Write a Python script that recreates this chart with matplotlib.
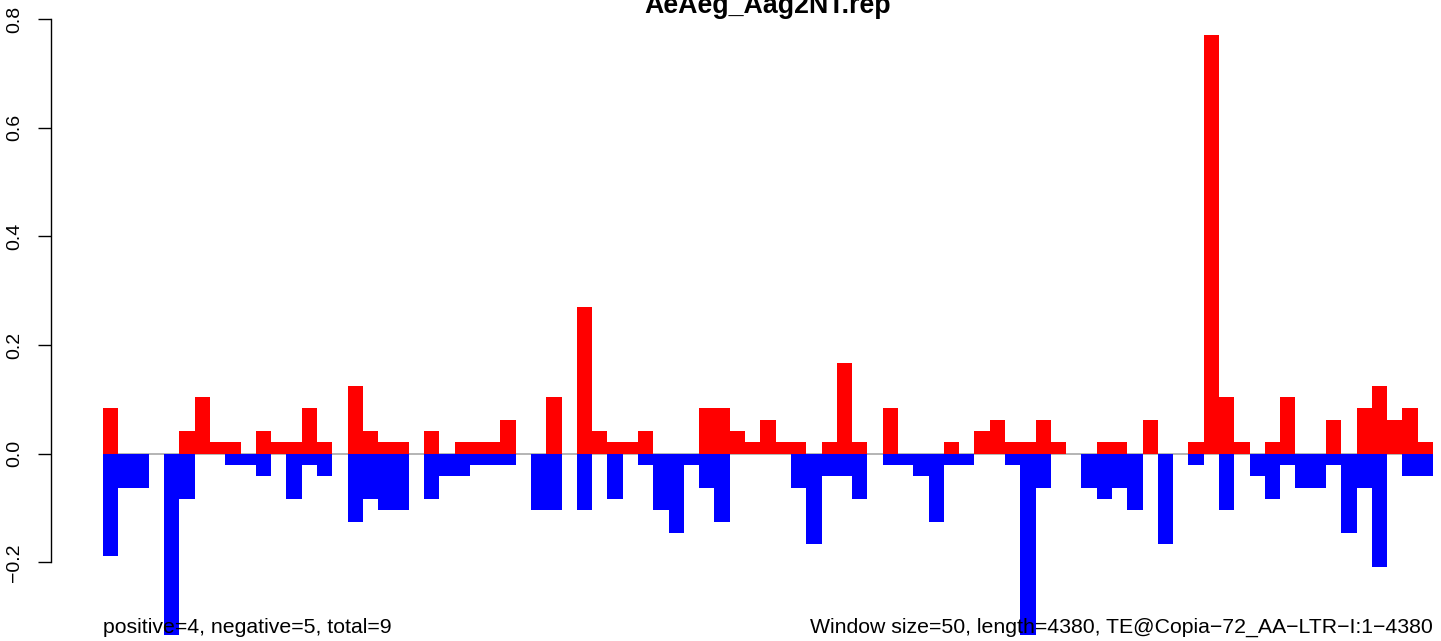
import numpy as np
import matplotlib
matplotlib.use("Agg")
import matplotlib.pyplot as plt

plt.rcParams['font.family'] = ['Liberation Sans', 'DejaVu Sans']

title = "AeAeg_Aag2NT.rep"
left_note = "positive=4, negative=5, total=9"
right_note = "Window size=50, length=4380, TE@Copia\u221272_AA\u2212LTR\u2212I:1\u22124380"

# in steps of 1/48
scale = 48.0
pos_counts = [4, 0, 0, 0, 0, 2, 5, 1, 1, 0,
              2, 1, 1, 4, 1, 0, 6, 2, 1, 1,
              0, 2, 0, 1, 1, 1, 3, 0, 0, 5,
              0, 13, 2, 1, 1, 2, 0, 0, 0, 4,
              4, 2, 1, 3, 1, 1, 0, 1, 8, 1,
              0, 4, 0, 0, 0, 1, 0, 2, 3, 1,
              1, 3, 1, 0, 0, 1, 1, 0, 3, 0,
              0, 1, 37, 5, 1, 0, 1, 5, 0, 0,
              3, 0, 4, 6, 3, 4, 1]
neg_counts = [9, 3, 3, 0, 16, 4, 0, 0, 1, 1,
              2, 0, 4, 1, 2, 0, 6, 4, 5, 5,
              0, 4, 2, 2, 1, 1, 1, 0, 5, 5,
              0, 5, 0, 4, 0, 1, 5, 7, 1, 3,
              6, 0, 0, 0, 0, 3, 8, 2, 2, 4,
              0, 1, 1, 2, 6, 1, 1, 0, 0, 1,
              16, 3, 0, 0, 3, 4, 3, 5, 0, 8,
              0, 1, 0, 5, 0, 2, 4, 1, 3, 3,
              1, 7, 3, 10, 0, 2, 2]
yticks = [-0.2, 0.0, 0.2, 0.4, 0.6, 0.8]

pos = np.array(pos_counts) / scale
neg = -np.array(neg_counts) / scale
n = len(pos)
x = np.arange(n)

W, H = 1441, 641
fig = plt.figure(figsize=(W / 100, H / 100), dpi=100)
ax = fig.add_axes([103 / W, 0, 1330 / W, 1])

ax.hlines(0, 0, n, color='#a8a8a8', linewidth=1.2, zorder=0.5)
ax.bar(x, pos, width=1, align='edge', color='#ff0000', linewidth=0, zorder=2)
ax.bar(x, neg, width=1, align='edge', color='#0000ff', linewidth=0, zorder=2)

zero_px = 453.7
ppu = 543.0
ax.set_xlim(0, n)
ax.set_ylim(-(H - zero_px) / ppu, zero_px / ppu)

for s in ['top', 'right', 'bottom']:
    ax.spines[s].set_visible(False)
ax.spines['left'].set_position(('outward', 52 * 0.72))
ax.spines['left'].set_bounds(-0.2, 0.8)
ax.spines['left'].set_linewidth(1.0)
ax.set_xticks([])
ax.set_yticks(yticks)
ax.set_yticklabels([("%.1f" % v).replace('-', '\u2212') for v in yticks],
                   rotation=90, va='center')
ax.tick_params(axis='y', length=9.4, width=1.0, pad=10.8, labelsize=14)
ax.patch.set_alpha(0)

fig.text(768 / W, 1 - 12.7 / H, title, ha='center', va='baseline',
         fontsize=19.3, fontweight='bold')
fig.text(103 / W, (H - 633) / H, left_note, ha='left', va='baseline', fontsize=15.3)
fig.text(1433 / W, (H - 633) / H, right_note, ha='right', va='baseline', fontsize=15.3)

fig.savefig("out.png", dpi=100)
